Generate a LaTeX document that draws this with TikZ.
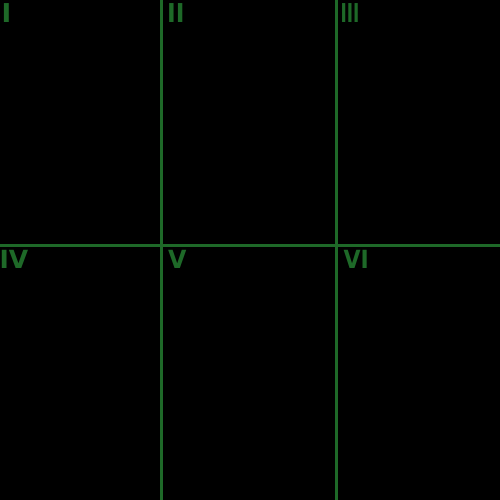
\documentclass[tikz,border=0pt]{standalone}
\usepackage{fontspec}
\newfontfamily\labfont{DejaVu Sans}
\definecolor{grn}{RGB}{30,105,40}
\begin{document}
\begin{tikzpicture}[x=1pt,y=1pt,
  gline/.style={draw=grn,line width=3pt},
  lab/.style={text=grn,anchor=base west,inner sep=0pt,transform shape},
  toprow/.style={lab,font=\labfont\bfseries\fontsize{26}{26}\selectfont},
  botrow/.style={lab,font=\labfont\bfseries\fontsize{25}{25}\selectfont}]
\fill[black] (0,0) rectangle (500,500);
\useasboundingbox (0,0) rectangle (500,500);
\coordinate (v1t) at (161.5,500); \coordinate (v1b) at (161.5,0);
\coordinate (v2t) at (336,500); \coordinate (v2b) at (336,0);
\coordinate (hl) at (0,254.5); \coordinate (hr) at (500,254.5);
\draw[gline] (v1t) -- (v1b);
\draw[gline] (v2t) -- (v2b);
\draw[gline] (hl) -- (hr);
\node[toprow] (l1) at (1.5,477) {I};
\node[toprow,xscale=0.9] (l2) at (167,477) {II};
\node[toprow,xscale=0.65] (l3) at (340.4,477) {III};
\node[botrow] (l4) at (-0.5,231) {IV};
\node[botrow,xscale=0.95] (l5) at (168,231) {V};
\node[botrow,xscale=0.88] (l6) at (343.5,231) {VI};
\end{tikzpicture}
\end{document}
